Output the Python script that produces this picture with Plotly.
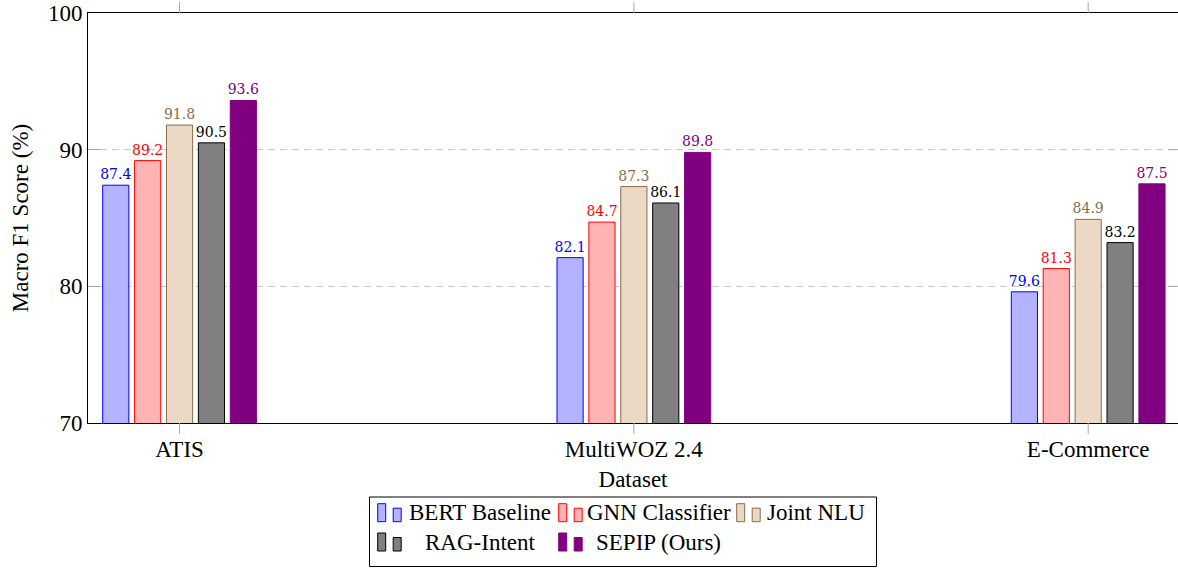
import plotly.graph_objects as go

# ---- data ----
datasets = ["ATIS", "MultiWOZ 2.4", "E-Commerce"]
series_names = ["BERT Baseline", "GNN Classifier", "Joint NLU", "RAG-Intent", "SEPIP (Ours)"]
bert = [87.4, 82.1, 79.6]
gnn = [89.2, 84.7, 81.3]
joint = [91.8, 87.3, 84.9]
rag = [90.5, 86.1, 83.2]
sepip = [93.6, 89.8, 87.5]
y_ticks = [70, 80, 90, 100]

series_values = [bert, gnn, joint, rag, sepip]
fills = ["#b3b3ff", "#ffb3b3", "#ebd9c6", "#808080", "#800080"]
lines = ["#0000ff", "#ff0000", "#8b6b4a", "#000000", "#800080"]
label_colors = ["#0000ff", "#ff0000", "#8b6b4a", "#000000", "#800080"]

W, H = 1178, 568
L, R, T, B = 88, 0, 13, 145
PW, PH = W - L - R, H - T - B
SERIF = "Liberation Serif"
FS = 23
TICK_GRAY = "#a8a8a8"
X_RANGE = [-0.2015, 2.1977]

fig = go.Figure()
for name, vals, fc, lc, tc in zip(series_names, series_values, fills, lines, label_colors):
    fig.add_trace(go.Bar(
        x=datasets, y=vals, name=name,
        marker=dict(color=fc, line=dict(color=lc, width=1)),
        text=[f"{v:.1f}" for v in vals], textposition="outside",
        textfont=dict(family="DejaVu Serif", size=14, color=tc),
        constraintext="none", cliponaxis=False, showlegend=False,
    ))

fig.update_layout(
    width=W, height=H,
    margin=dict(l=L, r=R, t=T, b=B),
    plot_bgcolor="white", paper_bgcolor="white",
    barmode="group", bargap=0.649, bargroupgap=0.18,
    font=dict(family=SERIF, size=FS, color="black"),
)
fig.update_xaxes(
    type="category", range=X_RANGE,
    showline=True, linecolor="black", linewidth=1, mirror=True,
    ticks="", ticklabelstandoff=5,
    showgrid=False, zeroline=False,
    tickfont=dict(family=SERIF, size=FS),
    title=dict(text="Dataset", font=dict(family=SERIF, size=FS), standoff=10),
)
fig.update_yaxes(
    range=[70, 100], tickvals=y_ticks,
    showline=True, linecolor="black", linewidth=1, mirror=False,
    ticks="inside", ticklen=12, tickcolor=TICK_GRAY, tickwidth=1,
    showgrid=True, gridcolor="#c8c8c8", griddash="7px,5px", gridwidth=1,
    zeroline=False,
    tickfont=dict(family=SERIF, size=FS),
    title=dict(text="Macro F1 Score (%)", font=dict(family=SERIF, size=FS), standoff=12),
)

# right-side inner y ticks (pgfplots style)
for v in y_ticks[1:-1]:
    fig.add_shape(type="line", xref="paper", yref="y", x0=1 - 10 / PW, x1=1, y0=v, y1=v,
                  line=dict(color=TICK_GRAY, width=1))

# outside x ticks at bottom and top (category centres on the axis)
for i, cat in enumerate(datasets):
    xp = (i - X_RANGE[0]) / (X_RANGE[1] - X_RANGE[0])
    fig.add_shape(type="line", xref="paper", yref="paper", x0=xp, x1=xp,
                  y0=0, y1=-11 / PH, line=dict(color=TICK_GRAY, width=1))
    fig.add_shape(type="line", xref="paper", yref="paper", x0=xp, x1=xp,
                  y0=1, y1=1 + 11 / PH, line=dict(color=TICK_GRAY, width=1))


def px_x(x):
    return (x - L) / PW


def px_y(y):
    return (H - B - y) / PH


# ---- legend (pgfplots-like, 3 columns) ----
fig.add_shape(type="rect", xref="paper", yref="paper",
              x0=px_x(369.5), x1=px_x(876.5), y0=px_y(566.5), y1=px_y(497),
              line=dict(color="black", width=1), fillcolor="white")
col_icon_x = [377.7, 558.7, 736.7]
col_text_cx = [480.0, 658.5, 815.5]
row_bottom = [521.7, 551.0]
for i, (name, fc, lc) in enumerate(zip(series_names, fills, lines)):
    r, c = divmod(i, 3)
    x0 = col_icon_x[c]
    yb = row_bottom[r]
    fig.add_shape(type="rect", xref="paper", yref="paper",
                  x0=px_x(x0), x1=px_x(x0 + 8), y0=px_y(yb), y1=px_y(yb - 18),
                  line=dict(color=lc, width=1), fillcolor=fc)
    fig.add_shape(type="rect", xref="paper", yref="paper",
                  x0=px_x(x0 + 15.5), x1=px_x(x0 + 23.5), y0=px_y(yb), y1=px_y(yb - 13.5),
                  line=dict(color=lc, width=1), fillcolor=fc)
    fig.add_annotation(xref="paper", yref="paper", x=px_x(col_text_cx[c]), y=px_y(yb - 9),
                       text=name, showarrow=False, xanchor="center", yanchor="middle",
                       font=dict(family=SERIF, size=FS, color="black"))

fig.write_html(
    "out.html",
    config={"displayModeBar": False},
    post_script="document.body.style.margin='0';document.body.style.overflow='hidden';",
)
